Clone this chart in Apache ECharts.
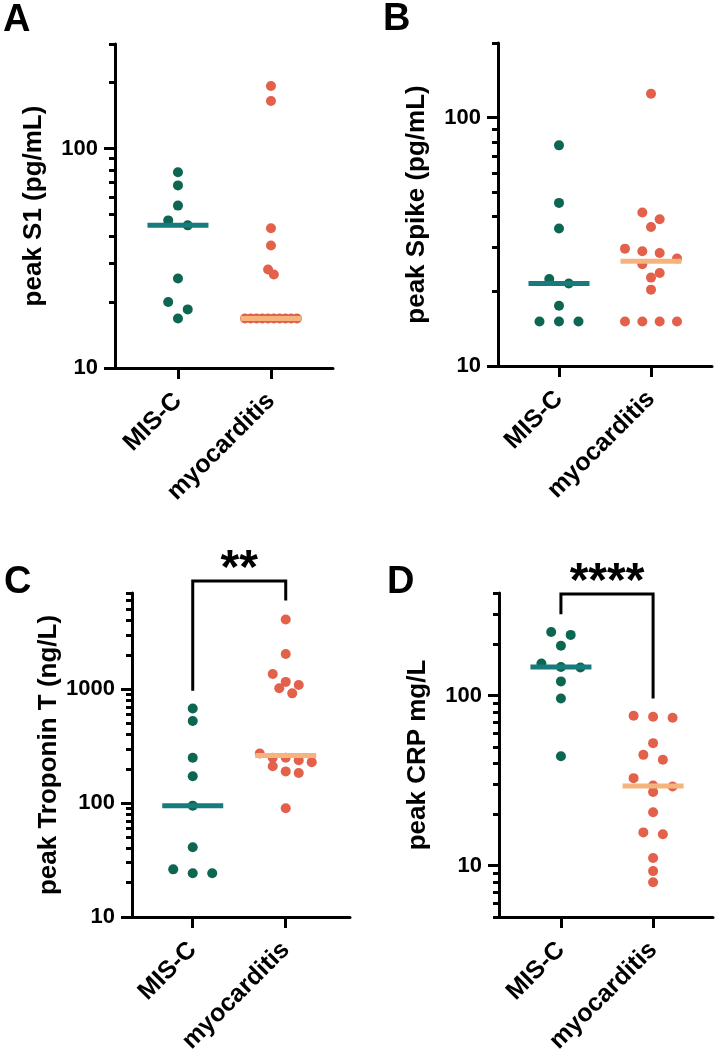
<!DOCTYPE html>
<html><head><meta charset="utf-8">
<script src="https://cdn.jsdelivr.net/npm/echarts@6/dist/echarts.min.js"></script>
<style>html,body{margin:0;padding:0;background:#fff}#c{width:716px;height:1050px}</style>
</head><body><div id="c"></div>
<script>
// ---------------- data ----------------
const groups = ['MIS-C', 'myocarditis'];

// A: peak S1 (pg/mL)
const s1MisC = [78, 68, 55, 47.1, 44.7, 25.6, 20, 18.5, 16.8];
const s1Myo = [193, 165, 43.4, 36.2, 28.1, 26.7, 16.8, 16.8, 16.8, 16.8, 16.8, 16.8, 16.8, 16.8, 16.8, 16.8];
const s1Median = [44.7, 16.8];
const s1TicksMajor = [10, 100];
const s1TicksMinor = [20, 30, 40, 50, 60, 70, 80, 90, 200, 300];

// B: peak Spike (pg/mL)
const spikeMisC = [77.4, 45.4, 35.8, 22.4, 21.5, 17.5, 15.1, 15.1, 15.1];
const spikeMyo = [125, 41.5, 39, 36.3, 29.7, 29, 28.5, 27.1, 25.7, 23.7, 22.7, 20.3, 15.1, 15.1, 15.1, 15.1];
const spikeMedian = [21.5, 26.4];
const spikeTicksMajor = [10, 100];
const spikeTicksMinor = [20, 30, 40, 50, 60, 70, 80, 90, 200];

// C: peak Troponin T (ng/L)
const tropMisC = [677, 526, 250, 172, 95, 41, 26.2, 24.2, 24.2];
const tropMyo = [4100, 2040, 1360, 1160, 1090, 1020, 920, 273, 250, 250, 238, 229, 211, 190, 184, 90];
const tropMedian = [95, 262];
const tropTicksMajor = [10, 100, 1000];
const tropTicksMinor = [20, 30, 40, 50, 60, 70, 80, 90, 200, 300, 400, 500, 600, 700, 800, 900, 2000, 3000, 4000, 5000, 6000, 7000];
const tropBracket = [8900, 970, 6000];   // [top, left end, right end]
const tropStars = '**';

// D: peak CRP mg/L
const crpMisC = [236, 227, 196, 154, 147, 146, 121, 96, 44];
const crpMyo = [76, 75, 74, 52.5, 44.8, 41.9, 32.7, 29.6, 29.2, 27.1, 20.6, 15.7, 15.3, 11.1, 9.3, 8];
const crpMedian = [147, 29.4];
const crpTicksMajor = [10, 100];
const crpTicksMinor = [5, 6, 7, 8, 9, 20, 30, 40, 50, 60, 70, 80, 90, 200, 300, 400];
const crpBracket = [395, 300, 96];
const crpStars = '****';

// ---------------- styling / layout ----------------
const FONT = '"Liberation Sans", Arial, Helvetica, sans-serif';
const GREEN = '#0d6651', ORANGE = '#e3604a';
const MED = ['#177a7c', '#f5b47e'];

const panels = [
  {letter: 'A', lx: 3, ly: 21, name: 'peak S1 (pg/mL)', mis: s1MisC, myo: s1Myo, med: s1Median,
   ymin: 10, ymax: 300, major: s1TicksMajor, minor: s1TicksMinor,
   grid: {left: 115, top: 44, width: 218, height: 324}, xMin: -0.677, xMax: 1.667},
  {letter: 'B', lx: 383, ly: 20, name: 'peak Spike (pg/mL)', mis: spikeMisC, myo: spikeMyo, med: spikeMedian,
   ymin: 10, ymax: 200, major: spikeTicksMajor, minor: spikeTicksMinor,
   grid: {left: 498, top: 43, width: 214, height: 323}, xMin: -0.663, xMax: 1.663},
  {letter: 'C', lx: 4, ly: 583, name: 'peak Troponin T (ng/L)', mis: tropMisC, myo: tropMyo, med: tropMedian,
   ymin: 10, ymax: 7000, major: tropTicksMajor, minor: tropTicksMinor, bracket: tropBracket, stars: tropStars,
   grid: {left: 132, top: 593, width: 218, height: 324}, xMin: -0.653, xMax: 1.691},
  {letter: 'D', lx: 387, ly: 583, name: 'peak CRP mg/L', mis: crpMisC, myo: crpMyo, med: crpMedian,
   ymin: 5, ymax: 400, major: crpTicksMajor, minor: crpTicksMinor, bracket: crpBracket, stars: crpStars,
   grid: {left: 499, top: 593, width: 214, height: 324}, xMin: -0.672, xMax: 1.65}
];

const chart = echarts.init(document.getElementById('c'), null, {renderer: 'canvas'});

function buildOption(xsByPanel) {
  const grid = [], xAxis = [], yAxis = [], series = [], graphic = [];
  panels.forEach((p, g) => {
    grid.push(Object.assign({containLabel: false, outerBoundsMode: 'none'}, p.grid));
    xAxis.push({
      type: 'value', gridIndex: g, min: p.xMin, max: p.xMax,
      splitLine: {show: false},
      axisLine: {show: true, onZero: false, lineStyle: {color: '#000', width: 3}},
      axisTick: {show: true, customValues: [0, 1], length: 11, lineStyle: {color: '#000', width: 3}},
      axisLabel: {show: true, customValues: [0, 1], rotate: 45, margin: 29,
        formatter: v => groups[Math.round(v)], color: '#000', fontSize: 25, fontWeight: 'bold', fontFamily: FONT}
    });
    yAxis.push({
      type: 'log', logBase: 10, gridIndex: g, position: 'left', min: p.ymin, max: p.ymax,
      name: p.name, nameLocation: 'middle', nameGap: 68,
      nameTextStyle: {color: '#000', fontSize: 26, fontWeight: 'bold', fontFamily: FONT},
      splitLine: {show: false},
      axisLine: {show: true, onZero: false, lineStyle: {color: '#000', width: 3}},
      axisTick: {show: true, customValues: p.major, length: 11, lineStyle: {color: '#000', width: 3}},
      axisLabel: {show: true, customValues: p.major, margin: 17, formatter: v => String(Math.round(v)),
        color: '#000', fontSize: 22, fontWeight: 'bold', fontFamily: FONT}
    });
    yAxis.push({
      type: 'log', logBase: 10, gridIndex: g, position: 'left', min: p.ymin, max: p.ymax,
      splitLine: {show: false}, axisLine: {show: false, onZero: false},
      axisTick: {show: true, customValues: p.minor, length: 6, lineStyle: {color: '#000', width: 3}},
      axisLabel: {show: false}
    });
    const xs = xsByPanel ? xsByPanel[g] : null;
    series.push({
      id: 'mis' + g, type: 'scatter', xAxisIndex: g, yAxisIndex: 2 * g, symbolSize: 10, z: 3,
      itemStyle: {color: GREEN, opacity: 1},
      data: p.mis.map((v, i) => [xs ? xs[0][i] : 0, v])
    });
    series.push({
      id: 'myo' + g, type: 'scatter', xAxisIndex: g, yAxisIndex: 2 * g, symbolSize: 10, z: 3,
      itemStyle: {color: ORANGE, opacity: 1},
      data: p.myo.map((v, i) => [xs ? xs[1][i] : 1, v])
    });
    series.push({
      id: 'med' + g, type: 'custom', xAxisIndex: g, yAxisIndex: 2 * g, z: 5, clip: false,
      data: p.med.map((m, k) => [k, m]),
      renderItem: (params, api) => {
        const c = api.coord([api.value(0), api.value(1)]);
        return {type: 'line', shape: {x1: c[0] - 30.5, y1: c[1], x2: c[0] + 30.5, y2: c[1]},
          style: {stroke: MED[params.dataIndex], lineWidth: 5}};
      }
    });
    if (p.bracket) {
      series.push({
        id: 'br' + g, type: 'custom', xAxisIndex: g, yAxisIndex: 2 * g, z: 6, clip: false,
        data: [p.bracket],
        renderItem: (params, api) => {
          const top0 = api.coord([0, api.value(0)]);
          const top1 = api.coord([1, api.value(0)]);
          const l = api.coord([0, api.value(1)]);
          const r = api.coord([1, api.value(2)]);
          return {type: 'group', children: [
            {type: 'polyline', shape: {points: [l, top0, top1, r]},
             style: {stroke: '#000', lineWidth: 3, fill: null, lineJoin: 'miter'}},
            {type: 'text', x: (top0[0] + top1[0]) / 2, y: top0[1] - 11,
             style: {text: p.stars, fill: '#000', font: 'bold 48px ' + FONT, align: 'center', verticalAlign: 'middle'}}
          ]};
        }
      });
    }
    graphic.push({type: 'text', left: p.lx, top: p.ly - 19,
      style: {text: p.letter, fill: '#000', font: 'bold 38px ' + FONT}});
  });
  return {animation: false, backgroundColor: '#fff', grid, xAxis, yAxis, series, graphic};
}

chart.setOption(buildOption(null));

// beeswarm layout, computed from pixel positions given by the chart's own scales
function swarm(g, values, cat) {
  const finder = {xAxisIndex: g, yAxisIndex: 2 * g};
  const unit = chart.convertToPixel(finder, [1, 10])[0] - chart.convertToPixel(finder, [0, 10])[0];
  const pts = values.map((v, i) => ({i, y: chart.convertToPixel(finder, [cat, v])[1]}));
  pts.sort((a, b) => a.y - b.y || a.i - b.i);
  const rows = [];
  let cur = null;
  pts.forEach(p => {
    if (!cur || p.y - cur.y0 >= 11) { cur = {y0: p.y, items: []}; rows.push(cur); }
    cur.items.push(p);
  });
  const maxN = Math.max.apply(null, rows.map(r => r.items.length));
  const step = maxN > 1 ? Math.min(19.5, 52 / (maxN - 1)) : 19.5;
  const xs = new Array(values.length);
  rows.forEach(r => {
    const n = r.items.length;
    r.items.forEach((p, k) => { xs[p.i] = cat + (k - (n - 1) / 2) * step / unit; });
  });
  return xs;
}
const xsAll = panels.map((p, g) => [swarm(g, p.mis, 0), swarm(g, p.myo, 1)]);
chart.setOption(buildOption(xsAll));
</script></body></html>
